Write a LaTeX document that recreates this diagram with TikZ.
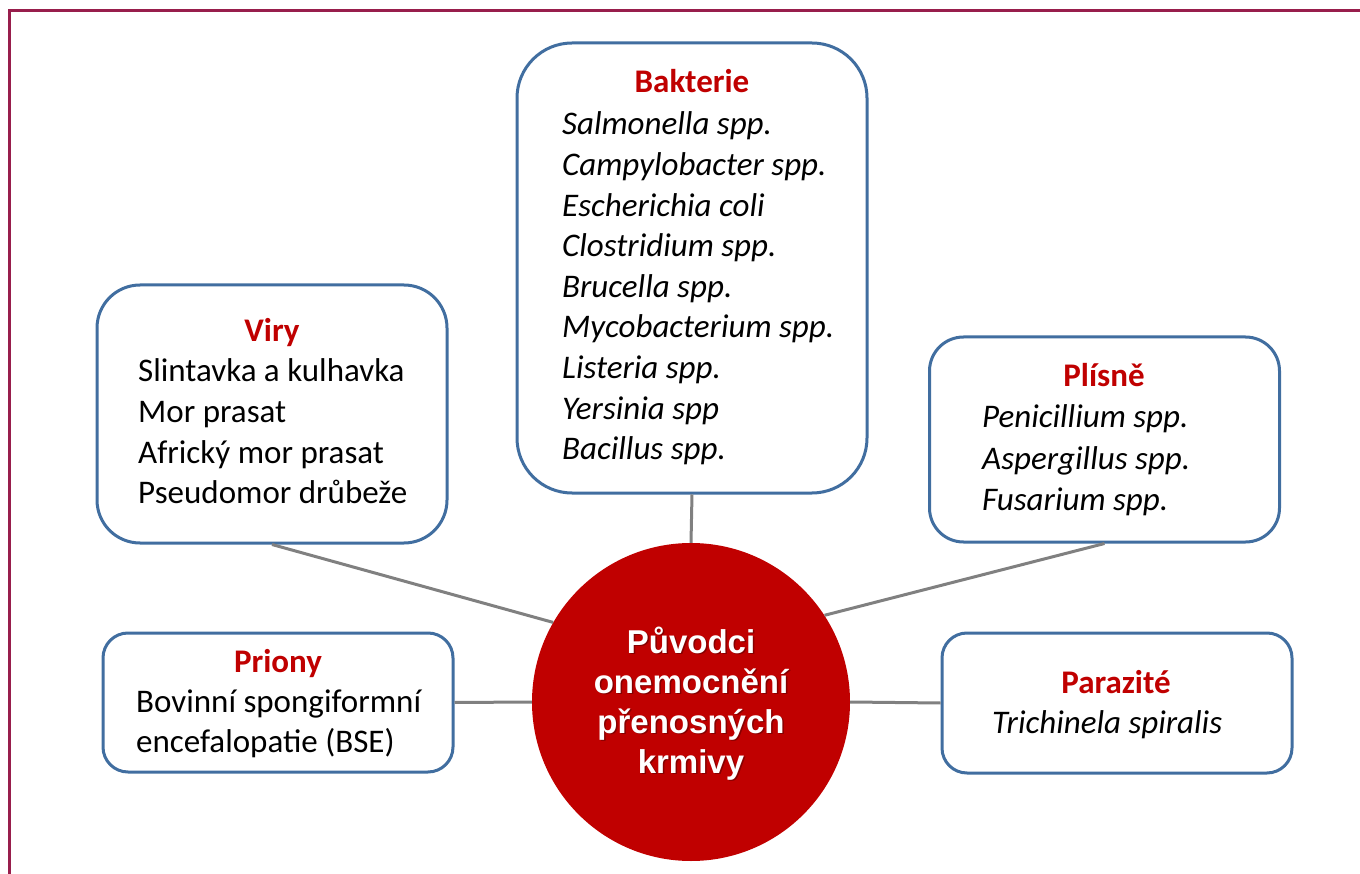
\documentclass[tikz,border=0pt]{standalone}
\usepackage{fontspec}
\setmainfont{Carlito}
\newfontfamily\hubfont{Liberation Sans}

\definecolor{framered}{RGB}{152,30,76}
\definecolor{boxblue}{RGB}{65,110,160}
\definecolor{titlered}{RGB}{192,0,0}
\definecolor{hubred}{RGB}{192,0,0}
\definecolor{linkgray}{RGB}{128,128,128}

\tikzset{
  group/.style={draw=boxblue, line width=3pt, fill=white, inner sep=0pt,
    minimum width=350pt},
  heading/.style={anchor=base, inner sep=0pt, text=titlered,
    font=\fontsize{33}{40.6}\selectfont\bfseries},
  entry/.style={anchor=base west, inner sep=0pt,
    font=\fontsize{33}{40.6}\selectfont},
  species/.style={entry, font=\fontsize{33}{40.6}\selectfont\itshape},
  link/.style={draw=linkgray, line width=3pt},
  hub/.style={circle, fill=hubred, minimum size=318pt, inner sep=0pt},
  hubtext/.style={anchor=base, inner sep=0pt,
    font=\hubfont\fontsize{33}{40}\selectfont\bfseries},
}

\begin{document}
\begin{tikzpicture}[x=1pt, y=-1pt]
  \useasboundingbox (0,0) rectangle (1360,874);

  % page frame on the left and top
  \draw[framered, line width=3pt] (9.5,874) -- (9.5,11) -- (1360,11);

  % central circle
  \node[hub] (hub) at (691,702) {};

  % category boxes
  \node[group, minimum height=450pt, rounded corners=55pt] (bak) at (692,268) {};
  \node[group, minimum height=258pt, rounded corners=43pt] (viry) at (272,414) {};
  \node[group, minimum height=205pt, rounded corners=34pt] (plis) at (1104.5,439.5) {};
  \node[group, minimum height=139pt, rounded corners=25pt] (prio) at (278,702.5) {};
  \node[group, minimum height=140pt, rounded corners=25pt] (para) at (1117,703) {};

  % connectors
  \draw[link] (bak.south) -- (hub.north);
  \draw[link] (viry.south) -- (hub.150);
  \draw[link] (plis.south) -- (hub.33);
  \draw[link] (prio.east) -- (hub.west);
  \draw[link] (para.west) -- (hub.east);

  % text of the central circle (with a soft drop shadow)
  \foreach \t [count=\i from 0] in {Původci,onemocnění,přenosných,krmivy} {
    \node[hubtext, text=black, opacity=0.3] (hubS\i) at (692.5,654.5+40*\i) {\t};
    \node[hubtext, text=white] (hubT\i) at (691,653+40*\i) {\t};
  }

  % Bakterie
  \node[heading] (bakT) at (692,93) {Bakterie};
  \foreach \t [count=\i from 0] in {Salmonella spp.,Campylobacter spp.,
      Escherichia coli,Clostridium spp.,Brucella spp.,Mycobacterium spp.,
      Listeria spp.,Yersinia spp,Bacillus spp.}
    \node[species] (bakL\i) at (562,135+40.6*\i) {\t};

  % Viry
  \node[heading] (viryT) at (272,342) {Viry};
  \foreach \t [count=\i from 0] in {Slintavka a kulhavka,Mor prasat,
      Africký mor prasat,Pseudomor drůbeže}
    \node[entry] (viryL\i) at (138,382+40.6*\i) {\t};

  % Plísně
  \node[heading] (plisT) at (1104,387) {Plísně};
  \foreach \t [count=\i from 0] in {Penicillium spp.,Aspergillus spp.,
      Fusarium spp.}
    \node[species] (plisL\i) at (982,428+41*\i) {\t};

  % Priony
  \node[heading] (prioT) at (278,672) {Priony};
  \foreach \t [count=\i from 0] in {Bovinní spongiformní,encefalopatie (BSE)}
    \node[entry] (prioL\i) at (136,712+40*\i) {\t};

  % Parazité
  \node[heading] (paraT) at (1116,693) {Parazité};
  \node[species] (paraL) at (992,733) {Trichinela spiralis};
\end{tikzpicture}
\end{document}
